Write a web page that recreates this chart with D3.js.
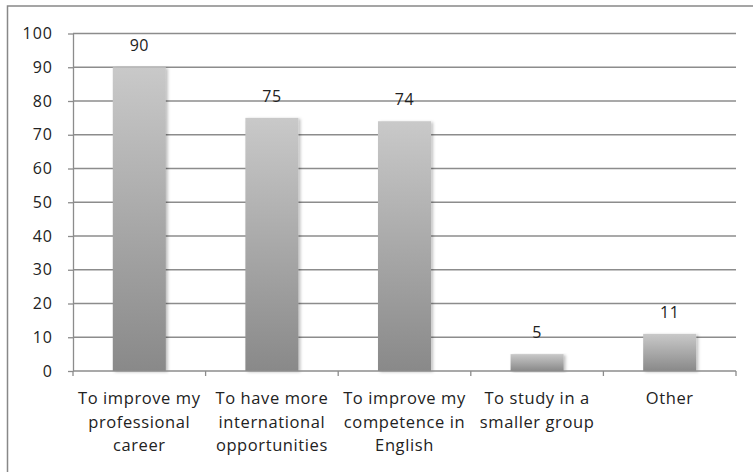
<!DOCTYPE html>
<html>
<head>
<meta charset="utf-8">
<script src="https://cdn.jsdelivr.net/npm/d3@7"></script>
<style>
  html, body { margin: 0; padding: 0; background: #fff; overflow: hidden; }
  svg text { font-family: "Open Sans", "DejaVu Sans", sans-serif; fill: #222; }
</style>
</head>
<body>
<div id="chart"></div>
<script>
const categories = [
  ["To improve my", "professional", "career"],
  ["To have more", "international", "opportunities"],
  ["To improve my", "competence in", "English"],
  ["To study in a", "smaller group"],
  ["Other"],
];
const values = [90, 75, 74, 5, 11];
const yTicks = [0, 10, 20, 30, 40, 50, 60, 70, 80, 90, 100];

const width = 753, height = 472;
const margin = { top: 33.5, right: 17, bottom: 101, left: 73 };

const svg = d3.select("#chart")
  .append("svg")
  .attr("width", width)
  .attr("height", height)
  .style("display", "block");

// outer chart frame (right and bottom edges run past the picture)
svg.append("rect")
  .attr("x", 7.5).attr("y", 6)
  .attr("width", 760).attr("height", 480)
  .attr("fill", "none")
  .attr("stroke", "#888")
  .attr("stroke-width", 1.5);

const defs = svg.append("defs");
const grad = defs.append("linearGradient")
  .attr("id", "barGrad")
  .attr("x1", 0).attr("y1", 0).attr("x2", 0).attr("y2", 1);
grad.append("stop").attr("offset", "0%").attr("stop-color", "#c9c9c9");
grad.append("stop").attr("offset", "100%").attr("stop-color", "#898989");

const shadow = defs.append("filter").attr("id", "shadow")
  .attr("x", "-20%").attr("y", "-5%").attr("width", "150%").attr("height", "115%");
shadow.append("feDropShadow")
  .attr("dx", 2).attr("dy", 1).attr("stdDeviation", 1.5)
  .attr("flood-color", "#000").attr("flood-opacity", 0.25);

// scales in absolute page coordinates
const x = d3.scaleBand()
  .domain(d3.range(categories.length))
  .range([margin.left, width - margin.right])
  .paddingInner(0.6)
  .paddingOuter(0.3);

const y = d3.scaleLinear().domain([0, 100]).range([height - margin.bottom, margin.top]);
const x0 = margin.left, x1 = width - margin.right, yBase = y(0);

// gridlines
svg.append("g")
  .selectAll("line")
  .data(yTicks.filter(d => d > 0))
  .join("line")
  .attr("x1", x0).attr("x2", x1)
  .attr("y1", d => y(d)).attr("y2", d => y(d))
  .attr("stroke", "#8c8c8c")
  .attr("stroke-width", 1.3);

// y axis line and ticks
const yAxis = svg.append("g")
  .attr("transform", `translate(${x0},0)`)
  .call(d3.axisLeft(y).tickValues(yTicks).tickSize(5).tickSizeOuter(0).tickFormat(""));
yAxis.selectAll("line, path").attr("stroke", "#8c8c8c").attr("stroke-width", 1.3);

// y tick labels
svg.append("g")
  .selectAll("text")
  .data(yTicks)
  .join("text")
  .attr("x", x0 - 20)
  .attr("y", d => y(d) + 5.5)
  .attr("text-anchor", "end")
  .attr("font-size", 16)
  .attr("letter-spacing", 1)
  .text(d => d);

// bars
svg.append("g")
  .selectAll("rect")
  .data(values)
  .join("rect")
  .attr("x", (d, i) => x(i))
  .attr("y", d => y(d))
  .attr("width", x.bandwidth())
  .attr("height", d => yBase - y(d))
  .attr("fill", "url(#barGrad)")
  .attr("filter", "url(#shadow)");

// value labels
svg.append("g")
  .selectAll("text")
  .data(values)
  .join("text")
  .attr("x", (d, i) => x(i) + x.bandwidth() / 2)
  .attr("y", d => y(d) - 16)
  .attr("text-anchor", "middle")
  .attr("font-size", 16)
  .attr("letter-spacing", 0.5)
  .text(d => d);

// x axis with category ticks on the boundaries
const step = (x1 - x0) / categories.length;
const xAxis = svg.append("g");
xAxis.append("line")
  .attr("x1", x0).attr("x2", x1)
  .attr("y1", yBase).attr("y2", yBase)
  .attr("stroke", "#8c8c8c").attr("stroke-width", 1.3);
xAxis.selectAll(".tick")
  .data(d3.range(categories.length + 1))
  .join("line")
  .attr("x1", d => x0 + d * step).attr("x2", d => x0 + d * step)
  .attr("y1", yBase).attr("y2", yBase + 5)
  .attr("stroke", "#8c8c8c").attr("stroke-width", 1.3);

// category labels, one text per line
categories.forEach((lines, i) => {
  xAxis.selectAll(null)
    .data(lines)
    .join("text")
    .attr("x", x(i) + x.bandwidth() / 2)
    .attr("y", (d, j) => yBase + 33 + j * 23.7)
    .attr("text-anchor", "middle")
    .attr("font-size", 16.5)
    .attr("letter-spacing", 0.6)
    .text(d => d);
});
</script>
</body>
</html>
